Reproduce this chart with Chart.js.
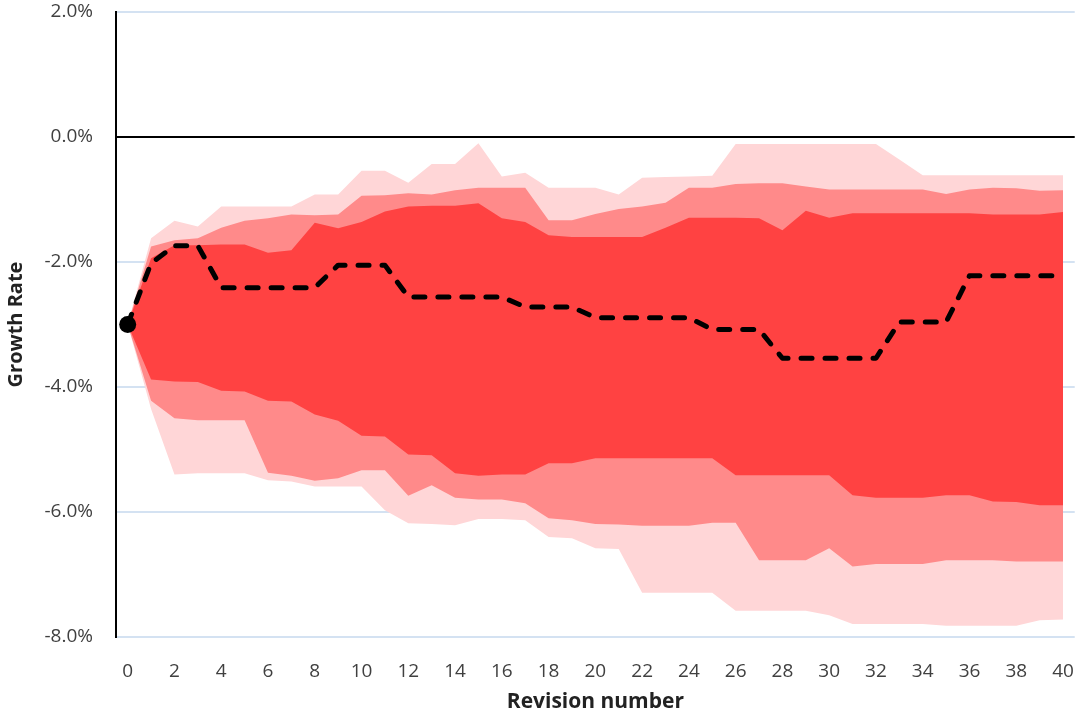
<!DOCTYPE html>
<html>
<head>
<meta charset="utf-8">
<title>Growth rate revisions</title>
<script src="https://cdn.jsdelivr.net/npm/chart.js@4.4.1/dist/chart.umd.min.js"></script>
<style>
  body { margin: 0; background: #fff; }
  #wrap { width: 1089px; height: 719px; }
</style>
</head>
<body>
<div id="wrap"><canvas id="fanChart" width="1089" height="719"></canvas></div>
<script>
// Revision numbers (x categories)
const revisions = [0, 1, 2, 3, 4, 5, 6, 7, 8, 9, 10, 11, 12, 13, 14, 15, 16, 17, 18, 19, 20,
  21, 22, 23, 24, 25, 26, 27, 28, 29, 30, 31, 32, 33, 34, 35, 36, 37, 38, 39, 40];

// Outer band (light pink)
const lightHigh = [-3.0, -1.62, -1.34, -1.43, -1.11, -1.11, -1.11, -1.11, -0.92, -0.92, -0.54,
  -0.54, -0.73, -0.43, -0.43, -0.10, -0.63, -0.57, -0.81, -0.81, -0.81,
  -0.92, -0.65, -0.64, -0.63, -0.62, -0.11, -0.11, -0.11, -0.11, -0.11,
  -0.11, -0.11, -0.36, -0.61, -0.61, -0.61, -0.61, -0.61, -0.61, -0.61];
const lightLow = [-3.0, -4.35, -5.40, -5.38, -5.38, -5.38, -5.49, -5.51, -5.59, -5.59, -5.59,
  -5.97, -6.18, -6.19, -6.21, -6.11, -6.11, -6.13, -6.40, -6.42, -6.58,
  -6.59, -7.29, -7.29, -7.29, -7.29, -7.58, -7.58, -7.58, -7.58, -7.65,
  -7.79, -7.79, -7.79, -7.79, -7.82, -7.82, -7.82, -7.82, -7.73, -7.72];

// Middle band (medium pink)
const midHigh = [-3.0, -1.75, -1.65, -1.62, -1.45, -1.34, -1.30, -1.24, -1.25, -1.24, -0.94,
  -0.93, -0.90, -0.92, -0.85, -0.81, -0.81, -0.81, -1.33, -1.33, -1.23,
  -1.15, -1.11, -1.05, -0.81, -0.81, -0.75, -0.74, -0.74, -0.79, -0.84,
  -0.84, -0.84, -0.84, -0.84, -0.91, -0.84, -0.81, -0.82, -0.86, -0.85];
const midLow = [-3.0, -4.22, -4.50, -4.53, -4.53, -4.53, -5.37, -5.42, -5.50, -5.46, -5.33,
  -5.33, -5.74, -5.57, -5.77, -5.80, -5.80, -5.86, -6.10, -6.13, -6.19,
  -6.20, -6.22, -6.22, -6.22, -6.17, -6.17, -6.77, -6.77, -6.77, -6.58,
  -6.87, -6.83, -6.83, -6.83, -6.77, -6.77, -6.77, -6.79, -6.79, -6.79];

// Inner band (red)
const innerHigh = [-3.0, -1.94, -1.73, -1.73, -1.72, -1.72, -1.85, -1.81, -1.37, -1.46, -1.36,
  -1.19, -1.11, -1.10, -1.10, -1.06, -1.30, -1.36, -1.57, -1.60, -1.60,
  -1.60, -1.60, -1.45, -1.29, -1.29, -1.29, -1.30, -1.49, -1.18, -1.29,
  -1.22, -1.22, -1.22, -1.22, -1.22, -1.22, -1.24, -1.24, -1.24, -1.20];
const innerLow = [-3.0, -3.88, -3.91, -3.92, -4.06, -4.07, -4.22, -4.23, -4.44, -4.54, -4.78,
  -4.79, -5.08, -5.09, -5.38, -5.42, -5.40, -5.40, -5.22, -5.22, -5.14,
  -5.14, -5.14, -5.14, -5.14, -5.14, -5.41, -5.41, -5.41, -5.41, -5.41,
  -5.73, -5.77, -5.77, -5.77, -5.73, -5.73, -5.83, -5.84, -5.89, -5.89];

// Median path (dashed line)
const median = [-3.0, -2.02, -1.74, -1.74, -2.41, -2.41, -2.41, -2.41, -2.41, -2.05, -2.05,
  -2.05, -2.56, -2.56, -2.56, -2.56, -2.56, -2.72, -2.72, -2.72, -2.89,
  -2.89, -2.89, -2.89, -2.89, -3.08, -3.08, -3.08, -3.54, -3.54, -3.54,
  -3.54, -3.54, -2.96, -2.96, -2.96, -2.22, -2.22, -2.22, -2.22, -2.22];

// Y axis ticks
const yTicks = [-8, -6, -4, -2, 0, 2];

const LIGHT = '#FFD6D7';
const MID = '#FF8A8A';
const INNER = '#FF4242';

function bandEdge(data, color, fillNext, order) {
  return {
    data: data,
    borderWidth: 0,
    borderColor: color,
    backgroundColor: color,
    pointRadius: 0,
    tension: 0,
    fill: fillNext ? '+1' : false,
    order: order
  };
}

const ctx = document.getElementById('fanChart').getContext('2d');

new Chart(ctx, {
  type: 'line',
  data: {
    labels: revisions,
    datasets: [
      bandEdge(lightHigh, LIGHT, true, 3),
      bandEdge(lightLow, LIGHT, false, 3),
      bandEdge(midHigh, MID, true, 2),
      bandEdge(midLow, MID, false, 2),
      bandEdge(innerHigh, INNER, true, 1),
      bandEdge(innerLow, INNER, false, 1),
      {
        data: median,
        borderColor: '#000',
        borderWidth: 5,
        borderDash: [11, 13],
        borderCapStyle: 'round',
        borderJoinStyle: 'round',
        fill: false,
        tension: 0,
        pointRadius: median.map((v, i) => i === 0 ? 8.5 : 0),
        pointBackgroundColor: '#000',
        pointBorderWidth: 0,
        order: 0
      }
    ]
  },
  options: {
    responsive: false,
    animation: false,
    events: [],
    layout: { padding: { left: 0, right: 8, top: 12, bottom: 0 } },
    plugins: {
      legend: { display: false },
      tooltip: { enabled: false }
    },
    scales: {
      x: {
        type: 'category',
        offset: true,
        grid: { display: false },
        border: { display: false },
        ticks: {
          autoSkip: false,
          maxRotation: 0,
          padding: 15,
          color: '#404040',
          font: { family: 'Open Sans', size: 19 },
          callback: function(val, idx) {
            return idx % 2 === 0 ? String(revisions[idx]) : '';
          }
        },
        title: {
          display: true,
          text: 'Revision number',
          color: '#222',
          font: { family: 'Open Sans', size: 21, weight: 'bold' },
          padding: { top: 0, bottom: 4 }
        },
        afterFit: function(scale) { scale.height = 82; }
      },
      y: {
        min: -8,
        max: 2,
        afterBuildTicks: function(scale) {
          scale.ticks = yTicks.map(v => ({ value: v }));
        },
        grid: {
          drawTicks: false,
          color: c => c.tick && c.tick.value === 0 ? '#000' : '#D4E2F2',
          lineWidth: 2
        },
        border: { display: true, color: '#000', width: 2 },
        ticks: {
          padding: 23,
          color: '#404040',
          font: { family: 'Open Sans', size: 19 },
          callback: v => v.toFixed(1) + '%'
        },
        title: {
          display: true,
          text: 'Growth Rate',
          color: '#222',
          font: { family: 'Open Sans', size: 20, weight: 'bold' },
          padding: { top: 4, bottom: 0 }
        },
        afterFit: function(scale) {
          scale.width = 116;
          // keep the top label from pushing the plot area down
          scale.paddingTop = 0;
          scale.paddingBottom = 0;
        }
      }
    }
  }
});
</script>
</body>
</html>
